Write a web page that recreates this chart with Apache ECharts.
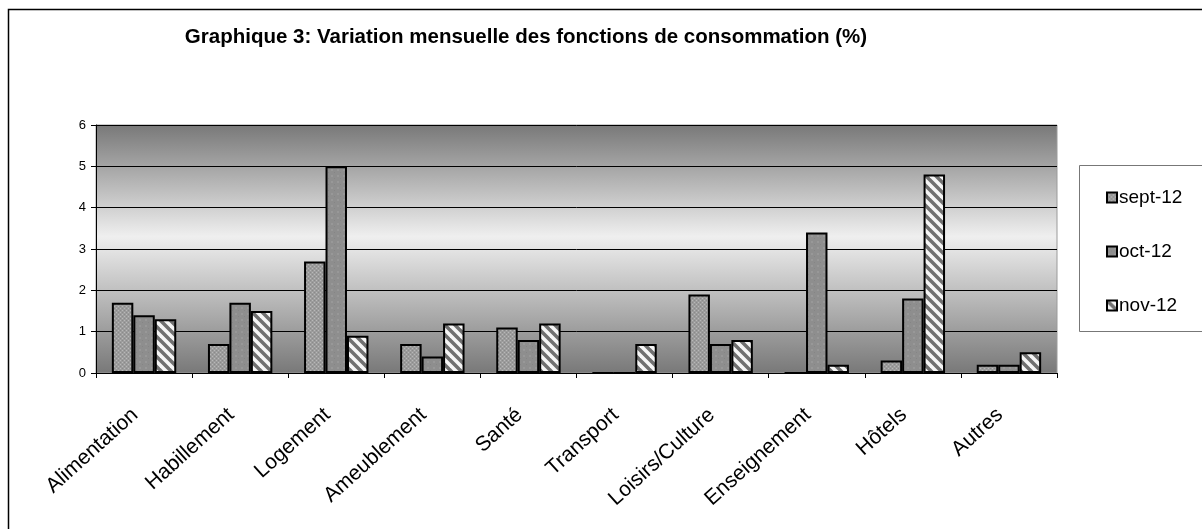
<!DOCTYPE html>
<html>
<head>
<meta charset="utf-8">
<script src="https://cdn.jsdelivr.net/npm/echarts@6/dist/echarts.min.js"></script>
<style>
html,body{margin:0;padding:0;background:#fff;}
#chart{width:1202px;height:529px;}
</style>
</head>
<body>
<div id="chart"></div>
<script>
const title = 'Graphique 3: Variation mensuelle des fonctions de consommation (%)';
const categories = ['Alimentation','Habillement','Logement','Ameublement','Santé','Transport','Loisirs/Culture','Enseignement','Hôtels','Autres'];
const seriesNames = ['sept-12','oct-12','nov-12'];
const sept12 = [1.7, 0.7, 2.7, 0.7, 1.1, 0, 1.9, 0, 0.3, 0.2];
const oct12  = [1.4, 1.7, 5.0, 0.4, 0.8, 0, 0.7, 3.4, 1.8, 0.2];
const nov12  = [1.3, 1.5, 0.9, 1.2, 1.2, 0.7, 0.8, 0.2, 4.8, 0.5];
const yTicks = [0,1,2,3,4,5,6];

const FONT = 'Liberation Sans, Arial, sans-serif';
function makeTile(w, h, draw){
  const c = document.createElement('canvas');
  c.width = w; c.height = h;
  draw(c.getContext('2d'), w, h);
  return c;
}
const septTile = makeTile(4, 4, (g,w,h)=>{
  g.fillStyle = '#9c9c9c'; g.fillRect(0,0,w,h);
  g.fillStyle = '#b8b8b8'; g.fillRect(0,0,1,1); g.fillRect(2,2,1,1);
  g.fillStyle = '#8a8a8a'; g.fillRect(2,0,1,1); g.fillRect(0,2,1,1);
});
const octTile = makeTile(6, 6, (g,w,h)=>{
  g.fillStyle = '#8e8e8e'; g.fillRect(0,0,w,h);
  g.fillStyle = '#989898'; g.fillRect(1,1,2,2);
  g.fillStyle = '#858585'; g.fillRect(4,4,1,1);
});
const novTile = makeTile(10, 10, (g,w,h)=>{
  g.fillStyle = '#f6f6f6'; g.fillRect(0,0,w,h);
  g.strokeStyle = '#707070'; g.lineWidth = 3.5;
  for (let k=-2;k<=2;k++){
    g.beginPath(); g.moveTo(k*10-2, -2); g.lineTo(k*10+w+2, h+2); g.stroke();
  }
});

const chart = echarts.init(document.getElementById('chart'), null, {renderer:'canvas'});
const mk = (name, data, tile) => ({
  name, type:'bar', data,
  barGap: '0%', barCategoryGap: '33%',
  itemStyle: { color: {image: tile, repeat:'repeat'}, borderColor:'#000', borderWidth:2 },
  emphasis: { disabled: true }
});
chart.setOption({
  animation:false,
  title:{ text:title, left:521, top:22, textAlign:'center',
    textStyle:{ fontFamily:FONT, fontSize:20.5, fontWeight:'bold', color:'#000'} },
  legend:{ orient:'vertical', left:1101, top:183, itemGap:35, itemWidth:10, itemHeight:10,
    icon:'rect', selectedMode:false,
    textStyle:{ fontFamily:FONT, fontSize:19, color:'#000', padding:[0,0,0,-3]},
    data: seriesNames },
  grid:{ left:96, top:125, width:961, height:248, show:true,
    borderColor:'#9a9a9a', borderWidth:1,
    backgroundColor: new echarts.graphic.LinearGradient(0,0,0,1,[
      {offset:0, color:'#787878'},
      {offset:0.45, color:'#efefef'},
      {offset:1, color:'#787878'}
    ]) },
  xAxis:{ type:'category', data:categories,
    axisLine:{ lineStyle:{color:'#000', width:1}},
    axisTick:{ show:true, length:5, lineStyle:{color:'#000'}},
    axisLabel:{ rotate:42, margin:31, interval:0, color:'#000',
      padding:[0,12,0,0],
      fontFamily:FONT, fontSize:21 } },
  yAxis:{ type:'value', min:0, max:6, interval:1,
    axisLine:{ show:true, lineStyle:{color:'#000', width:1}},
    axisTick:{ show:true, length:5, lineStyle:{color:'#000'}},
    axisLabel:{ color:'#000', fontFamily:FONT, fontSize:13, margin:10,
      formatter: v => yTicks.includes(v) ? String(v) : '' },
    splitLine:{ show:true, lineStyle:{color:'#000', width:1}} },
  graphic:[
    { type:'rect', left:6, top:7, shape:{x:0,y:0,width:1210,height:540}, z:-10,
      style:{ fill:'none', stroke:'#000', lineWidth:1.5 }, silent:true },
    { type:'rect', left:1079, top:165, shape:{x:0,y:0,width:140,height:166}, z:-5,
      style:{ fill:'#fff', stroke:'#777', lineWidth:1 }, silent:true }
  ],
  series:[ mk(seriesNames[0], sept12, septTile), mk(seriesNames[1], oct12, octTile), mk(seriesNames[2], nov12, novTile) ]
});
</script>
</body>
</html>
